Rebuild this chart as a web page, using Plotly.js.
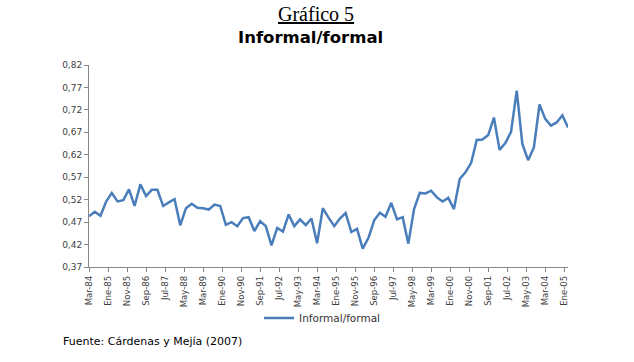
<!DOCTYPE html>
<html>
<head>
<meta charset="utf-8">
<script src="https://cdn.plot.ly/plotly-3.0.1.min.js"></script>
<style>
html,body{margin:0;padding:0;background:#fff;}
#chart{width:634px;height:362px;}
</style>
</head>
<body>
<div id="chart"></div>
<script>
// Quarterly series, Mar-84 .. Mar-05 (85 observations)
const startYear = 1984;
const startMonth = 3;
const ratio = [
  0.483, 0.493, 0.484, 0.516, 0.535, 0.516, 0.519, 0.543, 0.506, 0.554,
  0.528, 0.542, 0.542, 0.506, 0.514, 0.521, 0.463, 0.501, 0.511, 0.502,
  0.501, 0.498, 0.509, 0.506, 0.464, 0.470, 0.461, 0.479, 0.481, 0.450,
  0.472, 0.461, 0.418, 0.457, 0.449, 0.487, 0.461, 0.476, 0.463, 0.478,
  0.423, 0.501, 0.480, 0.461, 0.478, 0.490, 0.448, 0.455, 0.411, 0.435,
  0.474, 0.491, 0.482, 0.513, 0.476, 0.481, 0.422, 0.499, 0.535, 0.534,
  0.540, 0.525, 0.516, 0.524, 0.499, 0.566, 0.581, 0.602, 0.653, 0.654,
  0.664, 0.703, 0.631, 0.646, 0.671, 0.763, 0.644, 0.608, 0.636, 0.732,
  0.700, 0.685, 0.692, 0.708, 0.681
];
const tickDates = [
  '1984-03-01','1985-01-01','1985-11-01','1986-09-01','1987-07-01','1988-05-01',
  '1989-03-01','1990-01-01','1990-11-01','1991-09-01','1992-07-01','1993-05-01',
  '1994-03-01','1995-01-01','1995-11-01','1996-09-01','1997-07-01','1998-05-01',
  '1999-03-01','2000-01-01','2000-11-01','2001-09-01','2002-07-01','2003-05-01',
  '2004-03-01','2005-01-01'
];
const tickLabels = [
  'Mar-84','Ene-85','Nov-85','Sep-86','Jul-87','May-88','Mar-89','Ene-90','Nov-90',
  'Sep-91','Jul-92','May-93','Mar-94','Ene-95','Nov-95','Sep-96','Jul-97','May-98',
  'Mar-99','Ene-00','Nov-00','Sep-01','Jul-02','May-03','Mar-04','Ene-05'
];
const yTicks = [0.37, 0.42, 0.47, 0.52, 0.57, 0.62, 0.67, 0.72, 0.77, 0.82];
const yLabels = ['0,37','0,42','0,47','0,52','0,57','0,62','0,67','0,72','0,77','0,82'];

const dates = ratio.map((_, i) => {
  const m = startMonth - 1 + 3 * i;
  const y = startYear + Math.floor(m / 12);
  const mm = (m % 12) + 1;
  return y + '-' + String(mm).padStart(2, '0') + '-01';
});

const trace = {
  x: dates, y: ratio, type: 'scatter', mode: 'lines',
  name: 'Informal/formal',
  line: {color: '#4a7ebb', width: 2.5}
};

const axisGray = '#868686';
const layout = {
  width: 634, height: 362,
  margin: {l: 89, r: 66, t: 65, b: 95, autoexpand: false},
  paper_bgcolor: '#fff', plot_bgcolor: '#fff',
  showlegend: true,
  legend: {
    orientation: 'h', x: 0.355, y: -0.252, xanchor: 'left', yanchor: 'middle',
    font: {family: 'DejaVu Sans', size: 10.5, color: '#333'},
    itemwidth: 30, bgcolor: 'rgba(0,0,0,0)'
  },
  xaxis: {
    type: 'date',
    range: ['1984-03-01', '2005-03-01'],
    tickmode: 'array', tickvals: tickDates, ticktext: tickLabels,
    tickangle: -90,
    tickfont: {family: 'DejaVu Sans Condensed, DejaVu Sans', size: 9.5, color: '#404040'},
    showgrid: false, zeroline: false,
    showline: true, linecolor: axisGray, linewidth: 1,
    ticks: 'outside', ticklen: 4, tickcolor: axisGray
  },
  yaxis: {
    range: [0.37, 0.82],
    tickmode: 'array', tickvals: yTicks, ticktext: yLabels,
    tickfont: {family: 'DejaVu Sans', size: 9, color: '#404040'},
    showgrid: false, zeroline: false,
    showline: true, linecolor: axisGray, linewidth: 1,
    ticks: 'outside', ticklen: 4, tickcolor: axisGray
  },
  annotations: [
    {text: '<b>Informal/formal</b>', xref: 'paper', yref: 'paper', x: 0.463, y: 1.134,
     xanchor: 'center', yanchor: 'middle', showarrow: false,
     font: {family: 'DejaVu Sans', size: 16.5, color: '#000'}},
    {text: '<u>Gráfico 5</u>', xref: 'paper', yref: 'paper', x: 0.474, y: 1.253,
     xanchor: 'center', yanchor: 'middle', showarrow: false,
     font: {family: 'Liberation Serif', size: 20, color: '#000'}},
    {text: 'Fuente: Cárdenas y Mejía (2007)', xref: 'paper', yref: 'paper', x: -0.058, y: -0.368,
     xanchor: 'left', yanchor: 'middle', showarrow: false,
     font: {family: 'DejaVu Sans', size: 11, color: '#000'}}
  ]
};

Plotly.newPlot('chart', [trace], layout, {displayModeBar: false, staticPlot: true});
</script>
</body>
</html>
